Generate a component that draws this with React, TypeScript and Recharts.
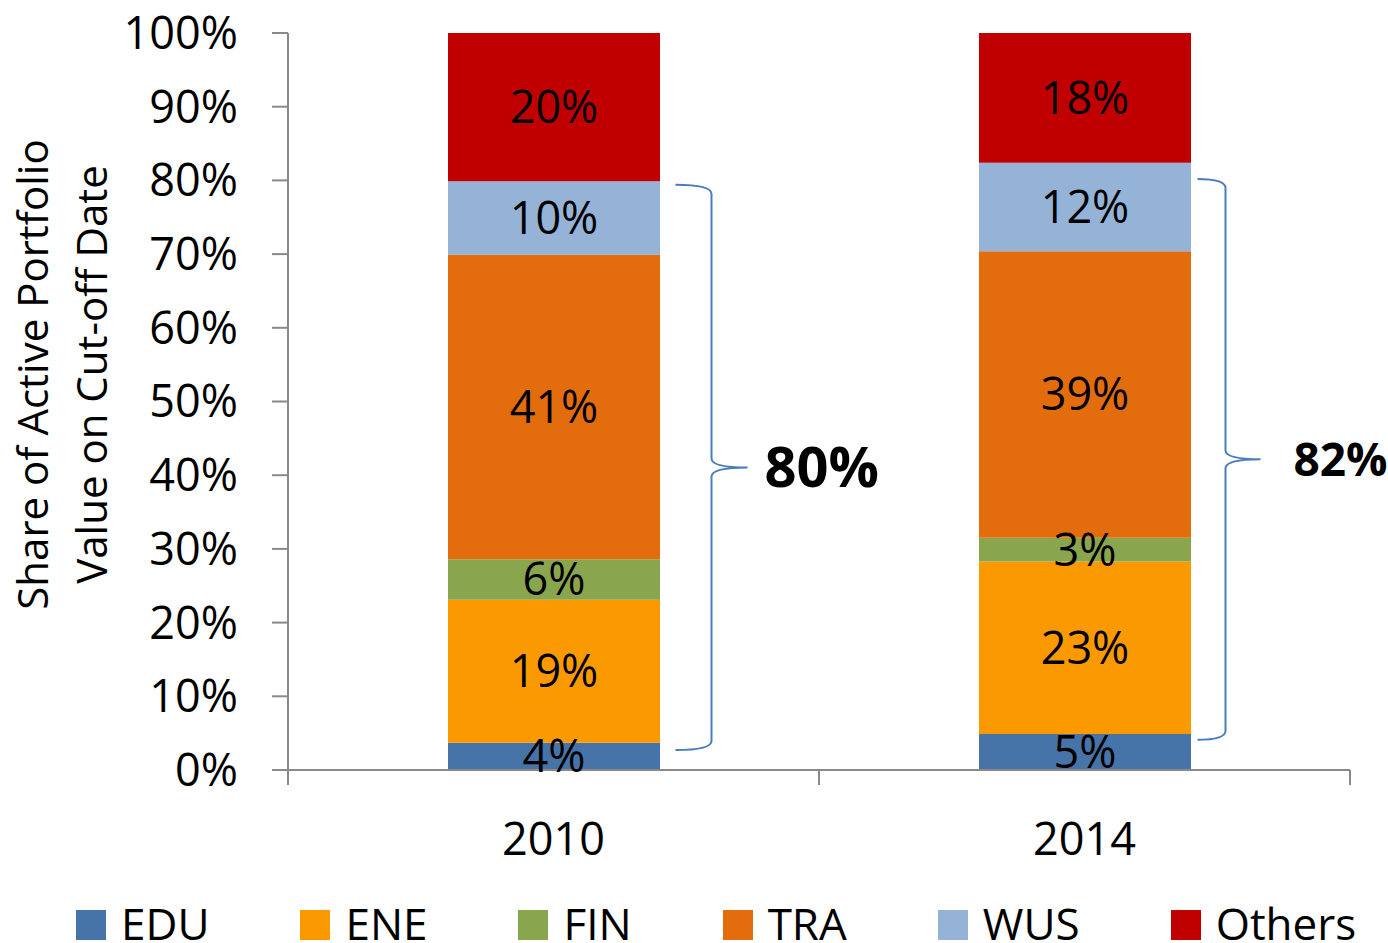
import { BarChart, Bar, XAxis, YAxis, LabelList, Legend, ReferenceArea } from 'recharts';

const categories = ['2010', '2014'];
const eduValues = [3.7, 4.9];
const eneValues = [19.4, 23.4];
const finValues = [5.5, 3.2];
const traValues = [41.3, 38.9];
const wusValues = [10.0, 12.0];
const othersValues = [20.1, 17.6];
const yTicks = [0, 10, 20, 30, 40, 50, 60, 70, 80, 90, 100];

// braces: which bar, where they start/end (in % of the axis) and their label
const braceCategories = ['2010', '2014'];
const braceLow = [2.7, 4.1];
const braceHigh = [79.4, 80.2];
const braceLabels = ['80%', '82%'];

const series = [
  { key: 'EDU', color: '#4674a8' },
  { key: 'ENE', color: '#fb9a00' },
  { key: 'FIN', color: '#89a54e' },
  { key: 'TRA', color: '#e36c0d' },
  { key: 'WUS', color: '#95b3d7' },
  { key: 'Others', color: '#c00000' },
];

const data = categories.map((category, i) => ({
  category,
  EDU: eduValues[i],
  ENE: eneValues[i],
  FIN: finValues[i],
  TRA: traValues[i],
  WUS: wusValues[i],
  Others: othersValues[i],
}));

const BAR_SIZE = 212;
const AXIS_COLOR = '#898989';
const FONT = '"Open Sans", sans-serif';

const braceStyle = [
  { gap: 16, arm: 36, tip: 36, labelGap: 17, fontSize: 56 },
  { gap: 7, arm: 28, tip: 35, labelGap: 33, fontSize: 46 },
];

function makeBrace(i: number) {
  return (props: any) => {
    const { x, y, width, height } = props;
    const st = braceStyle[i];
    const bx = x + width / 2 + BAR_SIZE / 2 + st.gap;
    const sx = bx + st.arm;
    const tx = sx + st.tip;
    const top = y;
    const bottom = y + height;
    const mid = (top + bottom) / 2;
    const r = 9;
    const d = `M${bx},${top} Q${sx},${top} ${sx},${top + r} L${sx},${mid - r} Q${sx},${mid} ${tx},${mid} Q${sx},${mid} ${sx},${mid + r} L${sx},${bottom - r} Q${sx},${bottom} ${bx},${bottom}`;
    return (
      <g>
        <path d={d} fill="none" stroke="#4a7ebb" strokeWidth={2} />
        <text x={tx + st.labelGap} y={mid} dy="0.355em" fontSize={st.fontSize} fontWeight="bold" fill="#000">
          {braceLabels[i]}
        </text>
      </g>
    );
  };
}

function XTick(props: any) {
  const { x, y, payload } = props;
  const half = payload?.offset ?? 0;
  return (
    <g>
      <line x1={x - half} y1={y} x2={x - half} y2={y + 15} stroke={AXIS_COLOR} strokeWidth={2} />
      <line x1={x + half} y1={y} x2={x + half} y2={y + 15} stroke={AXIS_COLOR} strokeWidth={2} />
      <text x={x} y={y} dy={85} textAnchor="middle" fontSize={45} fill="#000">
        {payload.value}
      </text>
    </g>
  );
}

function YLabel(props: any) {
  const vb = props.viewBox || { x: 0, y: 0, width: 0, height: 0 };
  const cy = vb.y + vb.height / 2 - 27;
  const x1 = vb.x + 48;
  const x2 = vb.x + 107;
  return (
    <g fontSize={42} fill="#000">
      <text x={x1} y={cy} textAnchor="middle" transform={`rotate(-90, ${x1}, ${cy})`}>
        Share of Active Portfolio
      </text>
      <text x={x2} y={cy} textAnchor="middle" transform={`rotate(-90, ${x2}, ${cy})`}>
        Value on Cut-off Date
      </text>
    </g>
  );
}

function LegendContent() {
  return (
    <div style={{ display: 'flex', alignItems: 'flex-start', height: 38, paddingLeft: 76, gap: 91 }}>
      {series.map((s) => (
        <div key={s.key} style={{ display: 'flex', alignItems: 'flex-start' }}>
          <span style={{ display: 'inline-block', width: 30, height: 30, marginTop: 5, marginRight: 15, background: s.color }} />
          <span style={{ fontSize: 44, lineHeight: '36px', color: '#000', whiteSpace: 'nowrap' }}>{s.key}</span>
        </div>
      ))}
    </div>
  );
}

export default function App() {
  return (
    <div style={{ position: 'absolute', left: 0, top: 0, fontFamily: FONT }}>
      <BarChart width={1388} height={943} data={data} margin={{ top: 33, right: 38, left: 0, bottom: 0 }}>
        <XAxis
          dataKey="category"
          height={135}
          tickLine={false}
          tickSize={0}
          tickMargin={0}
          interval={0}
          axisLine={{ stroke: AXIS_COLOR, strokeWidth: 2 }}
          tick={<XTick />}
        />
        <YAxis
          width={288}
          domain={[0, 100]}
          allowDataOverflow
          ticks={yTicks}
          tickFormatter={(v: number) => `${v}%`}
          tickSize={16}
          tickMargin={34}
          axisLine={{ stroke: AXIS_COLOR, strokeWidth: 2 }}
          tickLine={{ stroke: AXIS_COLOR, strokeWidth: 2 }}
          tick={{ fill: '#000', fontSize: 45 }}
          label={{ content: (p: any) => <YLabel {...p} /> }}
        />
        <Legend
          verticalAlign="bottom"
          wrapperStyle={{ left: 0, width: 1388 }}
          content={() => <LegendContent />}
        />
        {series.map((s) => (
          <Bar key={s.key} dataKey={s.key} stackId="a" fill={s.color} barSize={BAR_SIZE} isAnimationActive={false}>
            <LabelList
              dataKey={s.key}
              position="center"
              formatter={(v: any) => `${Math.round(Number(v))}%`}
              fill="#000"
              fontSize={45}
            />
          </Bar>
        ))}
        {braceCategories.map((c, i) => (
          <ReferenceArea
            key={c}
            x1={c}
            x2={c}
            y1={braceLow[i]}
            y2={braceHigh[i]}
            ifOverflow="visible"
            shape={makeBrace(i)}
          />
        ))}
      </BarChart>
    </div>
  );
}
